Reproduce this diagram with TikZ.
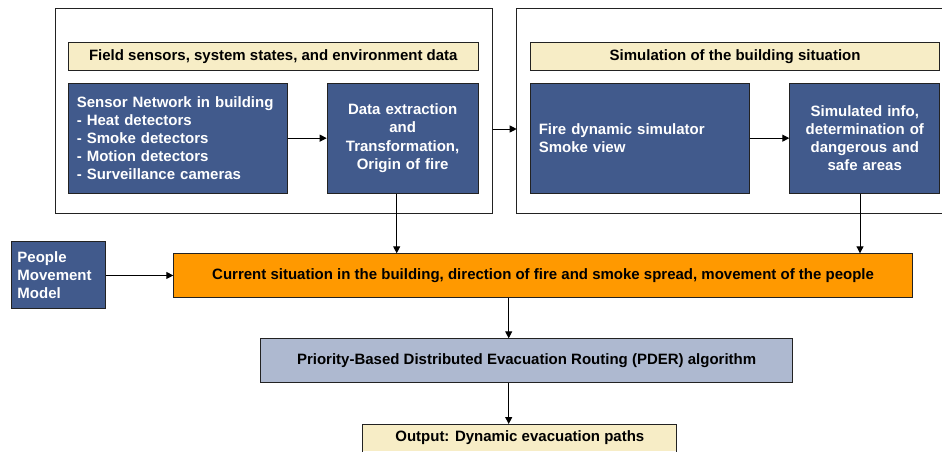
\documentclass[tikz,border=0pt]{standalone}
\usepackage{fontspec}
\setmainfont{Liberation Sans}
\usetikzlibrary{arrows.meta}
\definecolor{navy}{HTML}{415A8C}
\definecolor{creamc}{HTML}{F7EDC6}
\definecolor{orangec}{HTML}{FF9900}
\definecolor{greyblue}{HTML}{AEB9D0}
\definecolor{edge}{HTML}{222222}
\begin{document}
\begin{tikzpicture}[x=1pt,y=-1pt,
  font=\bfseries\fontsize{15}{18.2}\selectfont,
  box/.style={draw=edge, line width=0.9pt, inner sep=0pt, anchor=north west, align=center},
  dark/.style={box, fill=navy, text=white},
  cream/.style={box, fill=creamc},
  frame/.style={draw=edge, line width=1pt},
  arr/.style={-{Triangle[length=7pt,width=7pt]}, line width=1pt, draw=black}]
\useasboundingbox (0,0) rectangle (942,451);
% outer frames
\node[frame, anchor=north west, minimum width=436.7pt, minimum height=205pt, inner sep=0pt] (outer1) at (55,8.3) {};
\draw[frame] (942,8.3) -- (516.7,8.3) coordinate (o2a) -- (516.7,213.3) -- (942,213.3);
\coordinate (o2w) at (516.7,129);
% headers
\node[cream, minimum width=409.7pt, minimum height=28pt] (hdr1) at (68,42) {Field sensors, system states, and environment data};
\node[cream, minimum width=409.3pt, minimum height=28pt] (hdr2) at (530,42) {Simulation of the building situation};
% top boxes
\node[dark, minimum width=218.7pt, minimum height=110pt, text width=202pt, align=left] (sensor) at (68,82.7)
  {Sensor Network in building\\- Heat detectors\\- Smoke detectors\\- Motion detectors\\- Surveillance cameras};
\node[dark, minimum width=151pt, minimum height=110pt, text width=140pt] (data) at (326.7,82.7)
  {Data extraction\\and\\Transformation,\\Origin of fire};
\node[dark, minimum width=218.7pt, minimum height=110pt, text width=202pt, align=left] (fire) at (530,82.7)
  {Fire dynamic simulator\\Smoke view};
\node[dark, minimum width=150pt, minimum height=110pt, text width=140pt] (sim) at (789.3,82.7)
  {Simulated info,\\determination of\\dangerous and\\safe areas};
% middle
\node[dark, minimum width=94.6pt, minimum height=67pt, text width=82pt, align=left] (people) at (10.7,241)
  {People\\Movement\\Model};
\node[box, fill=orangec, minimum width=738.7pt, minimum height=43.4pt] (cur) at (173.3,253.3)
  {Current situation in the building, direction of fire and smoke spread, movement of the people};
\node[box, fill=greyblue, minimum width=532.3pt, minimum height=43.7pt] (pder) at (260,338.3)
  {Priority-Based Distributed Evacuation Routing (PDER) algorithm};
\node[cream, draw=none, minimum width=313.3pt, minimum height=27pt] (out) at (362.7,424)
  {Output: Dynamic evacuation paths};
\draw[draw=edge, line width=0.9pt] (out.south west) -- (out.north west) -- (out.north east) -- (out.south east);
% helper x positions
\coordinate (xa) at (396.7,0);
\coordinate (xb) at (860,0);
\coordinate (xc) at (508.7,0);
\coordinate (ya) at (0,129);
% connectors
\draw[arr] (sensor.east) -- (data.west);
\draw[arr] (fire.east) -- (sim.west);
\draw[arr] (outer1.east |- ya) -- (o2w);
\draw[arr] (data.south -| xa) -- (cur.north -| xa);
\draw[arr] (sim.south -| xb) -- (cur.north -| xb);
\draw[arr] (people.east |- cur.west) -- (cur.west);
\draw[arr] (cur.south -| xc) -- (pder.north -| xc);
\draw[arr] (pder.south -| xc) -- (out.north -| xc);
\end{tikzpicture}
\end{document}
